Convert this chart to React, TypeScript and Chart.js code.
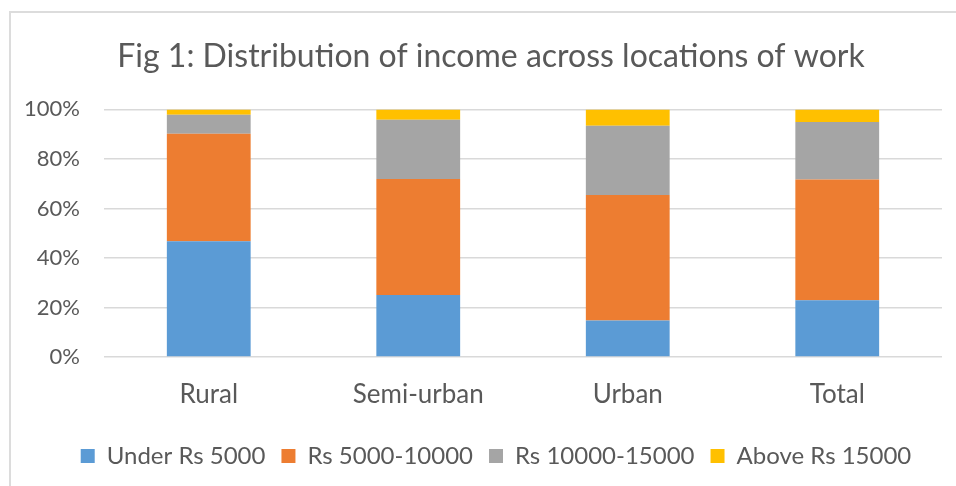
import React, { useEffect, useRef } from "react";
import { Chart, registerables } from "chart.js";

Chart.register(...registerables);

const titleText = "Fig 1: Distribution of income across locations of work";
const categories = ["Rural", "Semi-urban", "Urban", "Total"];
const seriesNames = ["Under Rs 5000", "Rs 5000-10000", "Rs 10000-15000", "Above Rs 15000"];
const under5000 = [46.7, 25.0, 14.7, 22.9];
const rs5000to10000 = [43.5, 46.9, 50.7, 48.8];
const rs10000to15000 = [7.6, 23.9, 28.0, 23.2];
const above15000 = [2.2, 4.2, 6.6, 5.1];
const seriesColors = ["#5b9bd5", "#ed7d31", "#a5a5a5", "#ffc000"];
const yTickStep = 20;
const yMax = 100;

const FONT = "Lato, 'Liberation Sans', sans-serif";
const TEXT = "#595959";

const shiftPlugin = {
  id: "shiftTitleLegend",
  afterLayout(chart: any) {
    const t = chart.titleBlock;
    if (t) {
      t.left += 15;
      t.right += 15;
    }
    const l = chart.legend;
    if (l) {
      l.left += 20;
      l.right += 20;
    }
  },
};

export default function App() {
  const ref = useRef<HTMLCanvasElement | null>(null);

  useEffect(() => {
    document.body.style.margin = "0";
    const values = [under5000, rs5000to10000, rs10000to15000, above15000];
    const chart = new Chart(ref.current as HTMLCanvasElement, {
      type: "bar",
      data: {
        labels: categories,
        datasets: seriesNames.map((name, i) => ({
          label: name,
          data: values[i],
          backgroundColor: seriesColors[i],
          borderWidth: 0,
          barPercentage: 0.4,
          categoryPercentage: 1,
        })),
      },
      plugins: [shiftPlugin],
      options: {
        animation: false,
        responsive: false,
        maintainAspectRatio: false,
        layout: { padding: { left: 10, right: 14, top: 20, bottom: 8 } },
        plugins: {
          title: {
            display: true,
            text: titleText,
            color: TEXT,
            font: { family: FONT, size: 32, weight: "normal" },
            padding: { top: 17, bottom: 34 },
          },
          legend: {
            position: "bottom",
            labels: {
              color: TEXT,
              font: { family: FONT, size: 24 },
              boxWidth: 14,
              boxHeight: 14,
              padding: 16,
            },
          },
          tooltip: { enabled: false },
        },
        scales: {
          x: {
            stacked: true,
            grid: { display: false },
            border: { display: false },
            ticks: {
              color: TEXT,
              font: { family: FONT, size: 26 },
              padding: 14,
            },
            afterFit: (scale: any) => {
              scale.height = 71;
            },
          },
          y: {
            stacked: true,
            min: 0,
            max: yMax,
            grid: { color: "#d9d9d9", lineWidth: 1.5, drawTicks: false },
            border: { display: false },
            ticks: {
              stepSize: yTickStep,
              color: TEXT,
              font: { family: FONT, size: 22 },
              padding: 24,
              callback: (v: any) => `${v}%`,
            },
            afterFit: (scale: any) => {
              scale.width = 94;
            },
          },
        },
      },
    });
    return () => chart.destroy();
  }, []);

  return (
    <div style={{ position: "relative", width: 956, height: 486, background: "#fff", overflow: "hidden" }}>
      <div
        style={{
          position: "absolute",
          left: 9,
          top: 11,
          width: 960,
          height: 480,
          borderLeft: "2px solid #dcdcdc",
          borderTop: "2px solid #dcdcdc",
        }}
      />
      <canvas ref={ref} width={956} height={486} style={{ position: "absolute", left: 0, top: 0 }} />
    </div>
  );
}
